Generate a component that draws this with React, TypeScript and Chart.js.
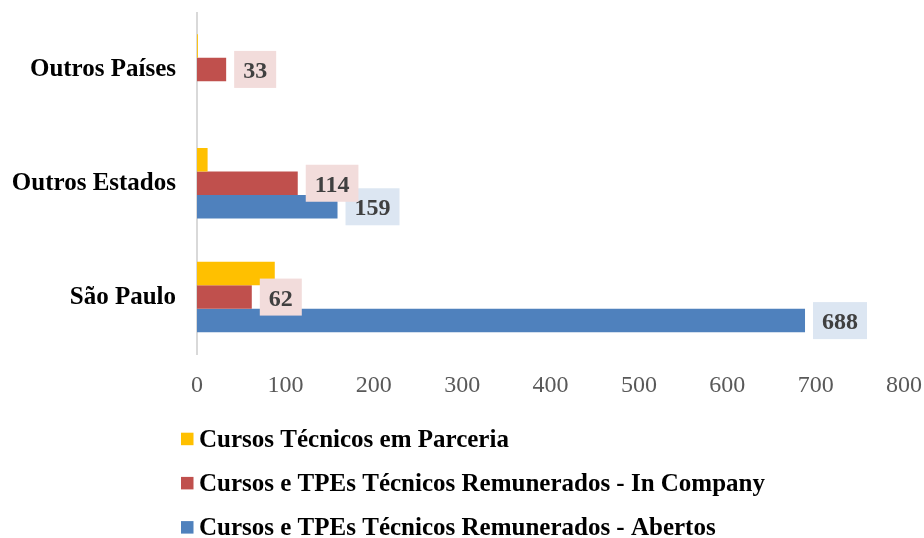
import React, { useEffect, useRef } from 'react';
import { Chart, registerables } from 'chart.js';

Chart.register(...registerables);

if (typeof document !== 'undefined') {
  document.body.style.margin = '0';
}

const categories = ['Outros Países', 'Outros Estados', 'São Paulo'];
const seriesNames = [
  'Cursos Técnicos em Parceria',
  'Cursos e TPEs Técnicos Remunerados - In Company',
  'Cursos e TPEs Técnicos Remunerados - Abertos',
];
const parceria: (number | null)[] = [1, 12, 88];
const inCompany: (number | null)[] = [33, 114, 62];
const abertos: (number | null)[] = [null, 159, 688];
const seriesColors = ['#FFC000', '#C0504D', '#4F81BD'];
const labelBackgrounds = ['', '#F2DCDB', '#DCE6F2'];
const xMin = 0;
const xMax = 800;
const xStep = 100;

const FONT = '"Liberation Serif", "Times New Roman", serif';

const boxLabelPlugin = {
  id: 'boxLabels',
  afterDatasetsDraw(chart: any) {
    const ctx = chart.ctx;
    ctx.save();
    ctx.font = `bold 24px ${FONT}`;
    // blue first, red on top
    for (const dsIndex of [2, 1]) {
      const meta = chart.getDatasetMeta(dsIndex);
      const data = chart.data.datasets[dsIndex].data;
      meta.data.forEach((el: any, i: number) => {
        const v = data[i];
        if (v == null) return;
        const text = String(v);
        const tw = ctx.measureText(text).width;
        const w = tw + 18;
        const h = 37;
        const x = el.x + 8;
        const y = el.y - h / 2;
        ctx.fillStyle = labelBackgrounds[dsIndex];
        ctx.fillRect(x, y, w, h);
        ctx.fillStyle = '#404040';
        ctx.textAlign = 'center';
        ctx.textBaseline = 'alphabetic';
        ctx.fillText(text, x + w / 2, el.y + 8.5);
      });
    }
    ctx.restore();
  },
};

const legendPlugin = {
  id: 'customLegend',
  afterDraw(chart: any) {
    const ctx = chart.ctx;
    ctx.save();
    ctx.font = `bold 25px ${FONT}`;
    const startY = 438.7;
    const gap = 44.2;
    chart.data.datasets.forEach((ds: any, i: number) => {
      const cy = startY + i * gap;
      ctx.fillStyle = ds.backgroundColor;
      ctx.fillRect(181, cy - 6, 12.5, 12.5);
      ctx.fillStyle = '#000000';
      ctx.textAlign = 'left';
      ctx.textBaseline = 'alphabetic';
      ctx.fillText(ds.label, 199, cy + 8);
    });
    ctx.restore();
  },
};

export default function App() {
  const canvasRef = useRef<HTMLCanvasElement | null>(null);

  useEffect(() => {
    if (!canvasRef.current) return;
    const chart = new Chart(canvasRef.current, {
      type: 'bar',
      data: {
        labels: categories,
        datasets: [
          { label: seriesNames[0], data: parceria, backgroundColor: seriesColors[0] },
          { label: seriesNames[1], data: inCompany, backgroundColor: seriesColors[1] },
          { label: seriesNames[2], data: abertos, backgroundColor: seriesColors[2] },
        ],
      },
      options: {
        indexAxis: 'y',
        animation: false,
        responsive: true,
        maintainAspectRatio: false,
        datasets: {
          bar: { categoryPercentage: 0.62, barPercentage: 1.0, borderWidth: 0 },
        },
        layout: { padding: { top: 12.5, bottom: 134, left: 0, right: 20 } },
        plugins: {
          legend: { display: false },
          tooltip: { enabled: false },
        },
        scales: {
          x: {
            min: xMin,
            max: xMax,
            ticks: {
              stepSize: xStep,
              color: '#595959',
              font: { family: FONT, size: 24 },
              padding: 17,
            },
            grid: { display: false, drawTicks: false },
            border: { display: false },
            afterFit: (s: any) => {
              s.height = 50;
              s.paddingLeft = 0;
              s.paddingRight = 0;
            },
          },
          y: {
            ticks: {
              color: '#000000',
              font: { family: FONT, size: 25, weight: 'bold' },
              padding: 21,
            },
            grid: { display: false, drawTicks: false },
            border: { display: true, color: '#D9D9D9', width: 2 },
            afterFit: (s: any) => {
              s.width = 197;
              s.paddingTop = 0;
              s.paddingBottom = 0;
            },
          },
        },
      },
      plugins: [boxLabelPlugin, legendPlugin],
    } as any);
    return () => chart.destroy();
  }, []);

  return (
    <div style={{ position: 'relative', width: 924, height: 538 }}>
      <canvas ref={canvasRef} />
    </div>
  );
}
